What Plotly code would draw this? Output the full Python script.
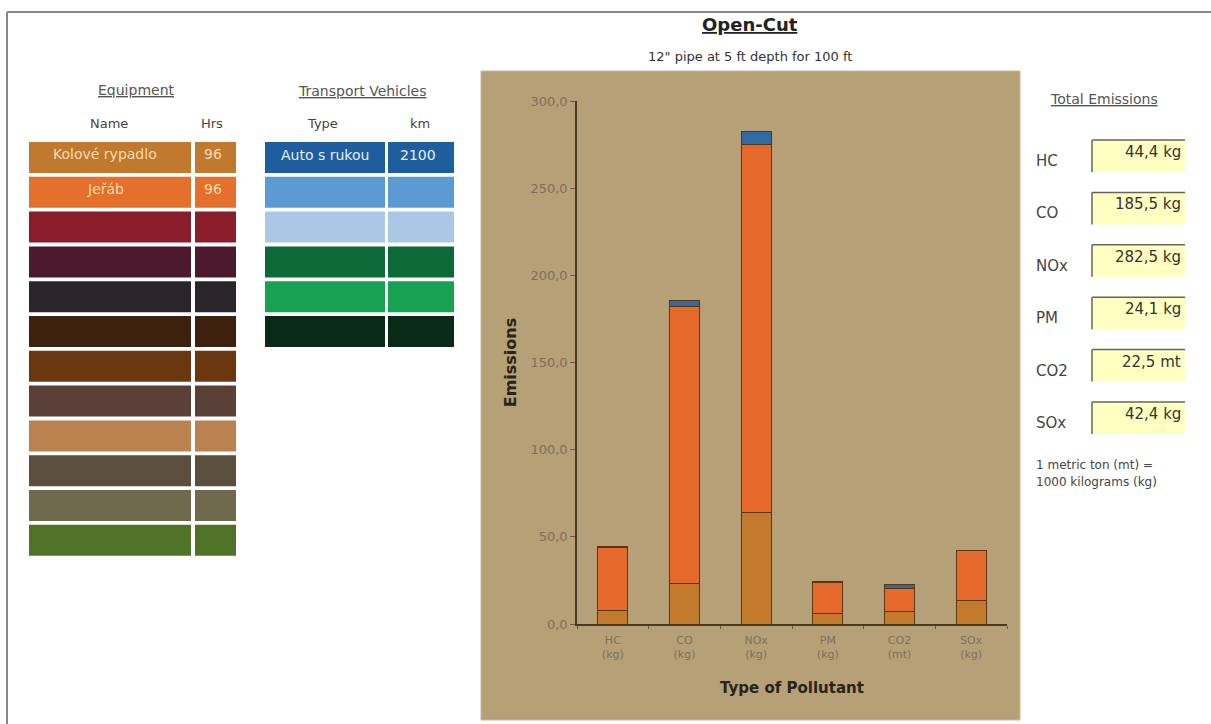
import plotly.graph_objects as go

# --- data -------------------------------------------------------------
pollutants = ["HC<br>(kg)", "CO<br>(kg)", "NOx<br>(kg)", "PM<br>(kg)", "CO2<br>(mt)", "SOx<br>(kg)"]
rypadlo = [8.0, 23.0, 64.0, 6.3, 6.9, 13.2]        # Kolové rypadlo
jerab = [35.9, 159.0, 211.0, 17.5, 13.3, 29.0]     # Jeřáb
auto = [0.5, 3.5, 7.5, 0.3, 2.3, 0.2]              # Auto s rukou

y_ticks = [0, 50, 100, 150, 200, 250, 300]

equip_names = ["Kolové rypadlo", "Jeřáb", "", "", "", "", "", "", "", "", "", ""]
equip_hrs = ["96", "96", "", "", "", "", "", "", "", "", "", ""]
equip_colors = ["#c0792e", "#e4702c", "#8a1c2c", "#4c1a2c", "#2a2528", "#3e200e",
                "#6a3810", "#5a4036", "#b9824e", "#5a4e3c", "#6f6a4e", "#4f7226"]

veh_types = ["Auto s rukou", "", "", "", "", ""]
veh_km = ["2100", "", "", "", "", ""]
veh_colors = ["#1f5e9e", "#5c9ad4", "#aac8e6", "#0b6a38", "#17a152", "#0a2a18"]

tot_labels = ["HC", "CO", "NOx", "PM", "CO2", "SOx"]
tot_values = ["44,4 kg", "185,5 kg", "282,5 kg", "24,1 kg", "22,5 mt", "42,4 kg"]

W, H = 1211, 724
FONT = "DejaVu Sans"


def px(x):
    return x / W


def py(y):
    return 1 - y / H


fig = go.Figure()

seg_line = dict(color="#5a3510", width=1)
fig.add_trace(go.Bar(x=pollutants, y=rypadlo, name="Kolové rypadlo",
                     marker=dict(color="#c27a2c", line=seg_line)))
fig.add_trace(go.Bar(x=pollutants, y=jerab, name="Jeřáb",
                     marker=dict(color="#e5692a", line=seg_line)))
fig.add_trace(go.Bar(x=pollutants, y=auto, name="Auto s rukou",
                     marker=dict(color="#2f6aa6", line=seg_line)))

shapes = []
annotations = []

# outer frame
shapes.append(dict(type="line", xref="paper", yref="paper",
                   x0=px(7), x1=1, y0=py(12), y1=py(12),
                   line=dict(color="#888888", width=2)))
shapes.append(dict(type="line", xref="paper", yref="paper",
                   x0=px(7), x1=px(7), y0=py(12), y1=0,
                   line=dict(color="#888888", width=2)))

# tan chart panel
shapes.append(dict(type="rect", xref="paper", yref="paper", layer="below",
                   x0=px(481), x1=px(1020), y0=py(720), y1=py(71),
                   fillcolor="#b5a078", line=dict(color="#c9b894", width=1)))


def text(x, y, s, size=15, color="#444444", anchor="center", bold=False):
    if bold:
        s = "<b>" + s + "</b>"
    annotations.append(dict(xref="paper", yref="paper", x=px(x), y=py(y),
                            text=s, showarrow=False, xanchor=anchor, yanchor="middle",
                            font=dict(family=FONT, size=size, color=color)))


# titles
text(750, 25, "<u>Open-Cut</u>", size=18, color="#222222", bold=True)
text(750, 56, "12\" pipe at 5 ft depth for 100 ft", size=13, color="#333333")

# equipment table
text(136, 90, "<u>Equipment</u>", size=14, color="#555555")
text(109, 123, "Name", size=13, color="#444444")
text(212, 123, "Hrs", size=13, color="#444444")
for i, c in enumerate(equip_colors):
    top = 142 + 34.8 * i
    for x0, x1 in ((29, 191), (195, 236)):
        shapes.append(dict(type="rect", xref="paper", yref="paper",
                           x0=px(x0), x1=px(x1), y0=py(top + 31), y1=py(top),
                           fillcolor=c, line=dict(width=0)))
    if equip_names[i]:
        text(105, top + 12, equip_names[i], size=14, color="#f6dcae")
        text(213, top + 12, equip_hrs[i], size=14, color="#f6dcae")

# transport table
text(362, 91, "<u>Transport Vehicles</u>", size=14, color="#555555")
text(322, 123, "Type", size=13, color="#444444")
text(420, 123, "km", size=13, color="#444444")
for i, c in enumerate(veh_colors):
    top = 142 + 34.8 * i
    for x0, x1 in ((265, 385), (388, 454)):
        shapes.append(dict(type="rect", xref="paper", yref="paper",
                           x0=px(x0), x1=px(x1), y0=py(top + 31), y1=py(top),
                           fillcolor=c, line=dict(width=0)))
    if veh_types[i]:
        text(325, top + 13, veh_types[i], size=14, color="#e4eef8")
        text(418, top + 13, veh_km[i], size=14, color="#e4eef8")

# total emissions panel
text(1104, 99, "<u>Total Emissions</u>", size=14, color="#555555")
for i, (lab, val) in enumerate(zip(tot_labels, tot_values)):
    top = 140 + 52.4 * i
    shapes.append(dict(type="rect", xref="paper", yref="paper",
                       x0=px(1092), x1=px(1185), y0=py(top + 32), y1=py(top),
                       fillcolor="#ffffc2", line=dict(width=0)))
    shapes.append(dict(type="line", xref="paper", yref="paper",
                       x0=px(1092), x1=px(1185), y0=py(top), y1=py(top),
                       line=dict(color="#666655", width=1.5)))
    shapes.append(dict(type="line", xref="paper", yref="paper",
                       x0=px(1092), x1=px(1092), y0=py(top), y1=py(top + 32),
                       line=dict(color="#666655", width=1.5)))
    text(1034, top + 21, lab, size=15, color="#444444", anchor="left")
    text(1183, top + 12, val, size=15, color="#333333", anchor="right")
text(1034, 465, "1 metric ton (mt) =", size=12, color="#444444", anchor="left")
text(1034, 482, "1000 kilograms (kg)", size=12, color="#444444", anchor="left")

fig.update_layout(
    width=W, height=H,
    margin=dict(l=0, r=0, t=0, b=0, autoexpand=False),
    paper_bgcolor="white",
    plot_bgcolor="rgba(0,0,0,0)",
    barmode="stack",
    bargap=0.58,
    showlegend=False,
    separators=", ",
    shapes=shapes,
    annotations=annotations,
    xaxis=dict(domain=[px(577), px(1007)], automargin=False,
               showgrid=False, zeroline=False,
               showline=True, linecolor="#4a3a22", linewidth=1.5,
               ticks="outside", tickson="boundaries", ticklen=3, tickcolor="#6a5a40",
               ticklabelstandoff=5,
               tickfont=dict(family=FONT, size=11, color="#7d705a"),
               title=dict(text="<b>Type of Pollutant</b>", standoff=22,
                          font=dict(family=FONT, size=15, color="#2a2418"))),
    yaxis=dict(domain=[py(624), py(101)], range=[0, 300], tickvals=y_ticks,
               automargin=False,
               tickformat=".1f", showgrid=False, zeroline=False,
               showline=True, linecolor="#4a3a22", linewidth=1.5,
               ticks="outside", ticklen=5, tickcolor="#6a5a40",
               tickfont=dict(family=FONT, size=13, color="#7d705a"),
               title=dict(text="<b>Emissions</b>", standoff=10,
                          font=dict(family=FONT, size=16, color="#2a2418"))),
)

fig.write_html("out.html")
